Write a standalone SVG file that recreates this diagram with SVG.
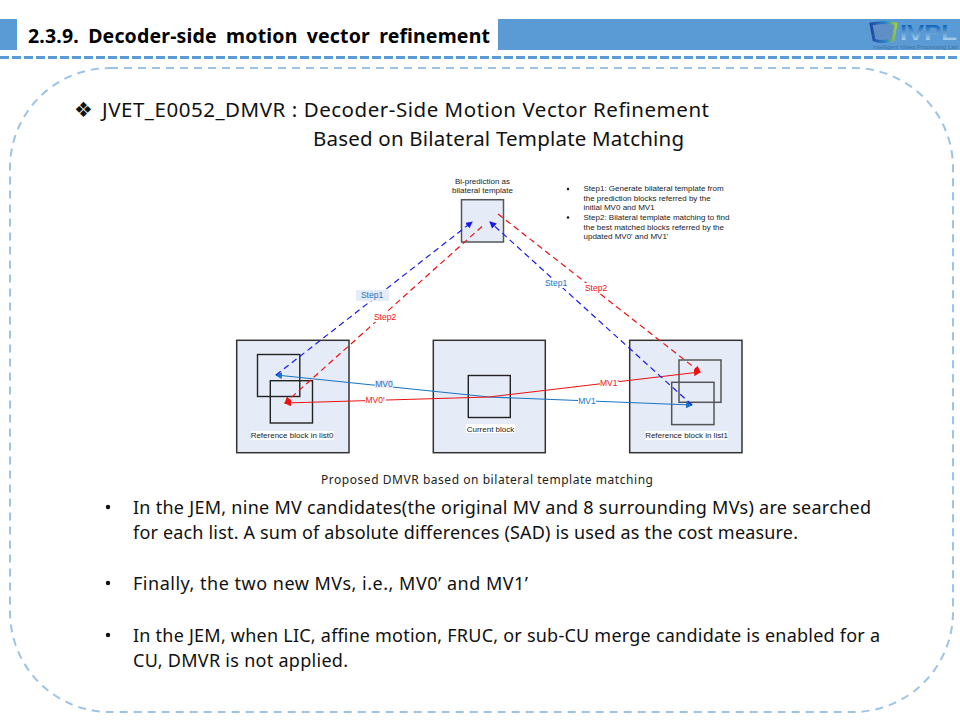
<svg xmlns="http://www.w3.org/2000/svg" width="960" height="720" viewBox="0 0 960 720">
<defs>
<style>
.body{font-family:"Noto Sans","Open Sans","Liberation Sans",sans-serif;font-size:18px;fill:#111}
.head{font-size:20.5px}
.small{font-family:"Liberation Sans",Arial,sans-serif;font-size:8px;fill:#222}
.lbl{font-family:"Liberation Sans",Arial,sans-serif;font-size:8.5px}
.box{fill:#e6ecf7;stroke:#333;stroke-width:1.5}
.inner{fill:none;stroke:#222;stroke-width:1.4}
.innerg{fill:none;stroke:#555;stroke-width:1.5}
.c{fill:none;stroke-width:1.2}
.dash{stroke-dasharray:6 4}
</style>
<marker id="ab" markerWidth="7" markerHeight="7" refX="6" refY="3.5" orient="auto" markerUnits="userSpaceOnUse"><path d="M0 0L7 3.5L0 7Z" fill="#1a1aee"/></marker>
<marker id="ar" markerWidth="7" markerHeight="7" refX="6" refY="3.5" orient="auto" markerUnits="userSpaceOnUse"><path d="M0 0L7 3.5L0 7Z" fill="#ee1111"/></marker>
<marker id="as" markerWidth="7" markerHeight="7" refX="6" refY="3.5" orient="auto" markerUnits="userSpaceOnUse"><path d="M0 0L7 3.5L0 7Z" fill="#1874c4"/></marker>
<linearGradient id="lg" x1="0" x2="1" y1="0" y2="0"><stop offset="0" stop-color="#1f49a6"/><stop offset="0.6" stop-color="#2e86c8"/><stop offset="1" stop-color="#9ccc3c"/></linearGradient>
<linearGradient id="ivpl" x1="0" x2="0" y1="0" y2="1"><stop offset="0.2" stop-color="#0a5fb4"/><stop offset="1" stop-color="#d4f0fd"/></linearGradient>
</defs>
<rect width="960" height="720" fill="#fff"/>
<g id="header">
<rect x="0" y="19" width="17" height="31" fill="#5b9bd5"/>
<rect x="498" y="19" width="462" height="31" fill="#5b9bd5"/>
<text x="28" y="43" font-family="'Noto Sans','Open Sans','Liberation Sans',sans-serif" font-size="19.5" font-weight="700" word-spacing="4" fill="#000" textLength="462" lengthAdjust="spacing">2.3.9. Decoder-side motion vector refinement</text>
<line x1="0" y1="57.5" x2="960" y2="57.5" stroke="#5b9bd5" stroke-width="3" stroke-dasharray="9 3"/>
</g>
<g id="logo">
<path d="M871 24Q888 21 896 24L893 40Q880 43 874 40Z" fill="#5f8fc4" stroke="url(#lg)" stroke-width="3"/>
<text x="900" y="39.500" font-family="'Liberation Sans',sans-serif" font-size="22" font-weight="700" fill="url(#ivpl)" textLength="57" lengthAdjust="spacingAndGlyphs">IVPL</text>
<text x="873" y="48.500" font-family="'Liberation Sans',sans-serif" font-size="5" fill="#3f74a0" textLength="85" lengthAdjust="spacingAndGlyphs">Intelligent Video Processing Lab</text>
</g>
<rect id="frame" x="10" y="68" width="943" height="644" rx="100" ry="100" fill="none" stroke="#9dc3e6" stroke-width="2" stroke-dasharray="8 6"/>
<g id="title">
<text x="74" y="117" font-family="'DejaVu Sans',sans-serif" font-size="21" fill="#111">❖</text>
<text class="body head" x="102" y="117" textLength="607" lengthAdjust="spacing">JVET_E0052_DMVR : Decoder-Side Motion Vector Refinement</text>
<text class="body head" x="313" y="146" textLength="371" lengthAdjust="spacing">Based on Bilateral Template Matching</text>
</g>
<g id="node-template">
<rect class="box" x="461.5" y="199.7" width="42" height="42.3" style="stroke:#555"/>
<text class="small" x="482.5" y="184" text-anchor="middle">Bi-prediction as</text>
<text class="small" x="482.5" y="193" text-anchor="middle">bilateral template</text>
</g>
<g id="node-steps">
<circle cx="568" cy="189" r="1.2" fill="#111"/>
<circle cx="568" cy="217.5" r="1.2" fill="#111"/>
<text class="small" x="583.5" y="191">Step1: Generate bilateral template from</text>
<text class="small" x="583.5" y="200.5">the prediction blocks referred by the</text>
<text class="small" x="583.5" y="210">initial MV0 and MV1</text>
<text class="small" x="583.5" y="220">Step2: Bilateral template matching to find</text>
<text class="small" x="583.5" y="229.5">the best matched blocks referred by the</text>
<text class="small" x="583.5" y="239">updated MV0' and MV1'</text>
</g>
<g id="node-list0">
<rect class="box" x="236.7" y="340.3" width="112.3" height="112.4"/>
<rect class="inner" x="257.5" y="354.5" width="42.3" height="42"/>
<rect class="inner" x="270.3" y="380.7" width="42.2" height="42.3"/>
</g>
<g id="node-current">
<rect class="box" x="433.3" y="340.3" width="112" height="112.4"/>
<rect class="inner" x="468.3" y="375.5" width="42" height="42"/>
</g>
<g id="node-list1">
<rect class="box" x="629.7" y="340.3" width="112.3" height="112.4"/>
<rect class="innerg" x="679" y="360" width="42" height="42.3"/>
<rect class="innerg" x="671.7" y="382.3" width="42.3" height="42.3"/>
</g>
<g id="connectors">
<path class="c" d="M489 397L276 375" stroke="#1874c4" marker-end="url(#as)"/>
<path class="c" d="M489 397L692 405" stroke="#1874c4" marker-end="url(#as)"/>
<path class="c" d="M489 397L285 403" stroke="#ee1111" marker-end="url(#ar)"/>
<path class="c" d="M489 397L700 372" stroke="#ee1111" marker-end="url(#ar)"/>
<path class="c dash" d="M276 375L472 222" stroke="#1a1aee" marker-end="url(#ab)"/>
<path class="c dash" d="M692 405L490 222" stroke="#1a1aee" marker-end="url(#ab)"/>
<path class="c dash" d="M482 226.5L285 403" stroke="#ee1111" marker-end="url(#ar)"/>
<path class="c dash" d="M498 214L700 372" stroke="#ee1111" marker-end="url(#ar)"/>
</g>
<g id="labels">
<rect x="356" y="290" width="33" height="11" fill="#e6ecf7"/>
<text class="lbl" x="372" y="298" text-anchor="middle" fill="#1874c4">Step1</text>
<rect x="373" y="312" width="24" height="10" fill="#fff"/>
<text class="lbl" x="385" y="320" text-anchor="middle" fill="#ee1111">Step2</text>
<rect x="545" y="278" width="24" height="10" fill="#fff"/>
<text class="lbl" x="556" y="286" text-anchor="middle" fill="#1874c4">Step1</text>
<rect x="584" y="283" width="24" height="10" fill="#fff"/>
<text class="lbl" x="596" y="291" text-anchor="middle" fill="#ee1111">Step2</text>
<rect x="375" y="380" width="18" height="8" fill="#e6ecf7"/>
<text class="lbl" x="384" y="387" text-anchor="middle" fill="#1874c4">MV0</text>
<rect x="365" y="395" width="21" height="8" fill="#fff"/>
<text class="lbl" x="375" y="402.500" text-anchor="middle" fill="#ee1111">MV0'</text>
<rect x="578" y="397" width="18" height="8" fill="#fff"/>
<text class="lbl" x="587" y="404" text-anchor="middle" fill="#1874c4">MV1</text>
<rect x="600" y="378" width="19" height="8" fill="#fff"/>
<text class="lbl" x="609.500" y="385.500" text-anchor="middle" fill="#ee1111">MV1'</text>
<rect x="251" y="431" width="83" height="9" fill="#fff"/>
<text class="small" x="292" y="438" text-anchor="middle">Reference block in list0</text>
<rect x="466" y="424" width="49" height="9" fill="#fff"/>
<text class="small" x="490.500" y="432" text-anchor="middle">Current block</text>
<rect x="645" y="431" width="83" height="9" fill="#fff"/>
<text class="small" x="686.500" y="438" text-anchor="middle">Reference block in list1</text>
</g>
<g id="caption">
<text x="321" y="484" font-family="'Noto Sans','Open Sans','Liberation Sans',sans-serif" font-size="12" fill="#222" textLength="332" lengthAdjust="spacing">Proposed DMVR based on bilateral template matching</text>
</g>
<g id="bullets">
<circle cx="108" cy="507" r="2.200" fill="#111"/>
<text class="body" x="133" y="514" textLength="738" lengthAdjust="spacing">In the JEM, nine MV candidates(the original MV and 8 surrounding MVs) are searched</text>
<text class="body" x="133" y="539" textLength="665" lengthAdjust="spacing">for each list. A sum of absolute differences (SAD) is used as the cost measure.</text>
<circle cx="108" cy="583" r="2.200" fill="#111"/>
<text class="body" x="133" y="590" textLength="395" lengthAdjust="spacing">Finally, the two new MVs, i.e., MV0’ and MV1’</text>
<circle cx="108" cy="635" r="2.200" fill="#111"/>
<text class="body" x="133" y="642" textLength="747" lengthAdjust="spacing">In the JEM, when LIC, affine motion, FRUC, or sub-CU merge candidate is enabled for a</text>
<text class="body" x="133" y="667" textLength="215" lengthAdjust="spacing">CU, DMVR is not applied.</text>
</g>
</svg>
